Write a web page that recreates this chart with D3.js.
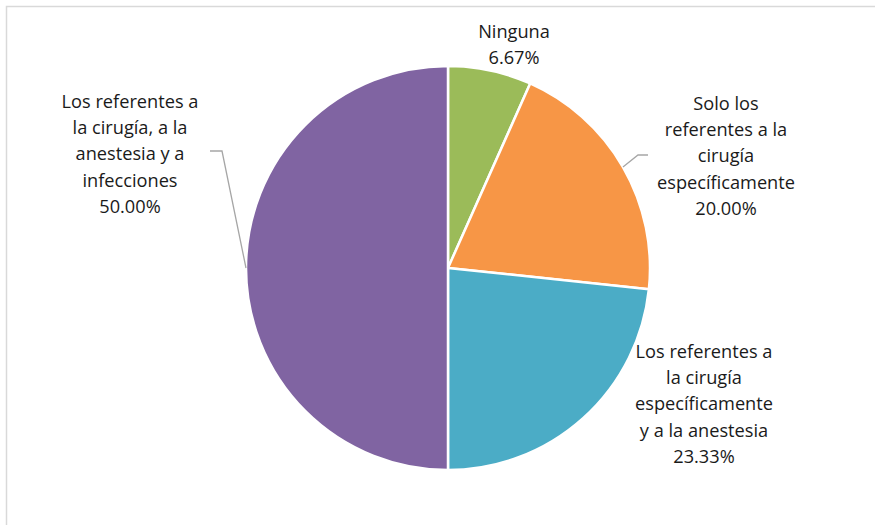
<!DOCTYPE html>
<html>
<head>
<meta charset="utf-8">
<script src="https://cdn.jsdelivr.net/npm/d3@7"></script>
<style>
  html, body { margin: 0; padding: 0; background: #fff; }
  svg { display: block; }
  text { font-family: "Open Sans", Lato, sans-serif; font-size: 18.2px; fill: #1a1a1a; }
</style>
</head>
<body>
<svg id="chart" width="875" height="525"></svg>
<script>
// Categories, values (percent) and slice colours
const categories = [
  "Ninguna",
  "Solo los referentes a la cirugía específicamente",
  "Los referentes a la cirugía específicamente y a la anestesia",
  "Los referentes a la cirugía, a la anestesia y a infecciones"
];
const values = [6.67, 20.00, 23.33, 50.00];
const colors = ["#9BBB59", "#F79646", "#4BACC6", "#8064A2"];
// Wrapped label lines for each category
const labelLines = [
  ["Ninguna"],
  ["Solo los", "referentes a la", "cirugía", "específicamente"],
  ["Los referentes a", "la cirugía", "específicamente", "y a la anestesia"],
  ["Los referentes a", "la cirugía, a la", "anestesia y a", "infecciones"]
];

const svg = d3.select("#chart");
const W = 875, H = 525;

// Chart frame
svg.append("rect")
  .attr("x", 6.5).attr("y", 6.5)
  .attr("width", W).attr("height", H)
  .attr("fill", "#fff")
  .attr("stroke", "#d9d9d9").attr("stroke-width", 1.5);

const cx = 448, cy = 268, R = 202;
const g = svg.append("g").attr("transform", `translate(${cx},${cy})`);

const pie = d3.pie().sort(null).value(d => d);
const arcs = pie(values);
const arc = d3.arc().innerRadius(0).outerRadius(R);
const edge = d3.arc().innerRadius(R).outerRadius(R);

g.selectAll("path.slice")
  .data(arcs)
  .join("path")
  .attr("class", "slice")
  .attr("d", arc)
  .attr("fill", (d, i) => colors[i])
  .attr("stroke", "#fff")
  .attr("stroke-width", 2.5)
  .attr("stroke-linejoin", "round");

// Label placement (centre x, first line baseline y) relative to the pie centre
const labelPos = [
  { x: 66, y: -230 },
  { x: 278, y: -158 },
  { x: 256, y: 90 },
  { x: -318, y: -160 }
];
const lineH = 26.2;
const fmt = d3.format(".2%");

arcs.forEach((d, i) => {
  const lines = labelLines[i].concat([fmt(values[i] / 100)]);
  const t = g.append("text")
    .attr("text-anchor", "middle")
    .attr("x", labelPos[i].x)
    .attr("y", labelPos[i].y);
  lines.forEach((s, k) => {
    t.append("tspan")
      .attr("x", labelPos[i].x)
      .attr("dy", k === 0 ? 0 : lineH)
      .text(s);
  });
});

// Leader lines from slice edges to their labels
const leaders = [
  { i: 1, elbow: [190, -113], end: [200, -113] },
  { i: 3, elbow: [-226, -117], end: [-238, -117] }
];
leaders.forEach(l => {
  const p = edge.centroid(arcs[l.i]);
  g.append("polyline")
    .attr("points", [p, l.elbow, l.end].map(q => q.join(",")).join(" "))
    .attr("fill", "none")
    .attr("stroke", "#a6a6a6")
    .attr("stroke-width", 1.3);
});
</script>
</body>
</html>
